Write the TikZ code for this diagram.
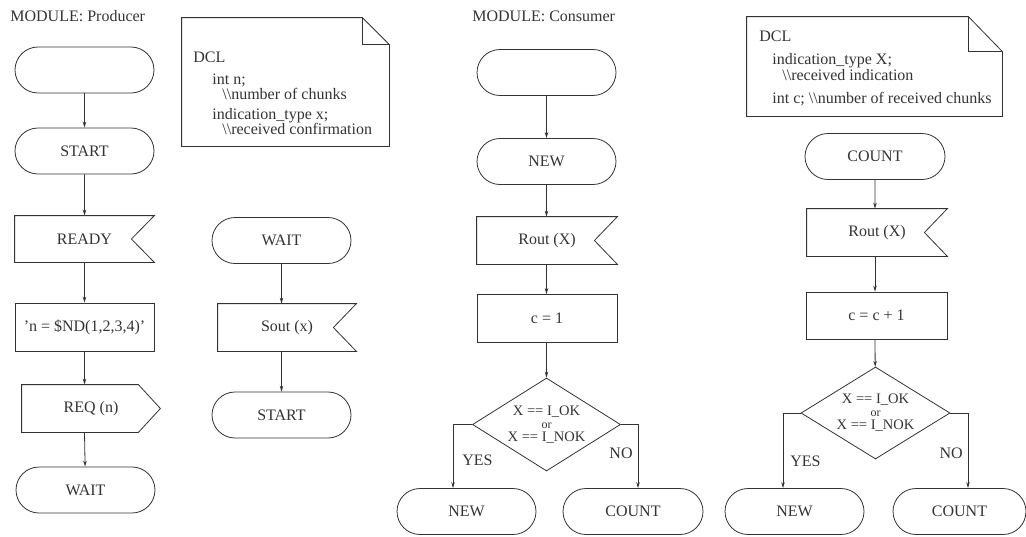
\documentclass[tikz,border=0pt]{standalone}
\usepackage{fontspec}
\setmainfont{Liberation Serif}
\usetikzlibrary{shapes.misc,shapes.geometric,arrows.meta}

\begin{document}
\begin{tikzpicture}[x=1pt, y=-1pt, line width=0.8pt, color=black!80,
    every node/.style={font=\fontsize{16}{17}\selectfont, inner sep=0pt},
    term/.style={draw, rounded rectangle, minimum width=139pt, minimum height=46pt},
    procbox/.style={draw, rectangle, minimum width=140pt, minimum height=48pt},
    inbox/.style={rectangle, minimum width=140pt, minimum height=47pt,
        append after command={\pgfextra{\let\sigbox\tikzlastnode
            \draw (\sigbox.north west) -- (\sigbox.north east) -- ([xshift=-23pt]\sigbox.east)
                -- (\sigbox.south east) -- (\sigbox.south west) -- cycle;}}},
    outbox/.style={rectangle, minimum width=138pt, minimum height=47pt,
        append after command={\pgfextra{\let\sigbox\tikzlastnode
            \draw (\sigbox.north west) -- ([xshift=-22pt]\sigbox.north east) -- (\sigbox.east)
                -- ([xshift=-22pt]\sigbox.south east) -- (\sigbox.south west) -- cycle;}}},
    decision/.style={draw, diamond, aspect=1.58, minimum width=148pt, minimum height=93pt,
        align=center, font=\fontsize{14.5}{14.5}\selectfont},
    flow/.style={-{Stealth[length=6pt,width=3.5pt]}},
    note/.style={rectangle},
    notetext/.style={align=left, anchor=north west}]

    \useasboundingbox (0,0) rectangle (1026,536);

    % module Producer
    \node[anchor=base west] (prodTitle) at (10,21) {MODULE: Producer};

    \node[term] (pEmpty)  at (84.5,70)   {};
    \node[term] (pStart)  at (84.5,151)  {START};
    \node[inbox, minimum width=139pt, minimum height=46pt] (pReady) at (84.5,239) {READY};
    \node[procbox, minimum width=139pt] (pAssign) at (84.5,327) {'n = \$ND(1,2,3,4)'};
    \node[outbox] (pReq)  at (91,408.5)  {REQ (n)};
    \node[term] (pWait)   at (85.5,490)  {WAIT};

    \path[flow]
        (pEmpty)  edge (pStart)
        (pStart)  edge (pReady)
        (pReady)  edge (pAssign)
        (pAssign) edge (pAssign |- pReq.north)
        (pAssign |- pReq.south) edge (pWait);

    \node[note, minimum width=207pt, minimum height=128pt] (dclProd) at (285.5,82) {};
    \draw (dclProd.south west) -- (dclProd.north west) -- ([xshift=-27pt]dclProd.north east)
        -- ([yshift=-27pt]dclProd.north east) -- (dclProd.south east) -- cycle;
    \draw ([xshift=-27pt]dclProd.north east) -- ([xshift=-27pt,yshift=-27pt]dclProd.north east)
        -- ([yshift=-27pt]dclProd.north east);
    \node[notetext, font=\fontsize{16}{15}\selectfont] (dclProdText) at (193,52)
        {DCL\\[7pt]
         \hspace*{19pt}int n;\\
         \hspace*{29pt}\textbackslash\textbackslash number of chunks\\[5pt]
         \hspace*{19pt}indication\_type x;\\
         \hspace*{29pt}\textbackslash\textbackslash received confirmation};

    \node[term] (pWaitB)  at (281.5,240.5) {WAIT};
    \node[inbox, minimum width=138pt] (pSout) at (287,327.5) {Sout (x)};
    \node[term] (pStartB) at (281.5,415) {START};

    \path[flow]
        (pWaitB) edge (pWaitB |- pSout.north)
        (pWaitB |- pSout.south) edge (pStartB);

    % module Consumer
    \node[anchor=base west] (consTitle) at (472,21) {MODULE: Consumer};

    \node[term] (cEmpty) at (546.5,72.5)  {};
    \node[term] (cNew)   at (546.5,161.5) {NEW};
    \node[inbox] (cRout) at (547,240.5)   {Rout (X)};
    \node[procbox] (cSet) at (547,318.5)  {c = 1};
    \node[decision] (cDec) at (546.5,424.5)
        {X == I\_OK\\[-1.5pt]{\fontsize{12}{12}\selectfont or}\\[-1.5pt]X == I\_NOK};
    \node[term] (cNewB)  at (466.5,511.5) {NEW};
    \node[term, minimum width=140pt] (cCount) at (633,511.5) {COUNT};

    \path[flow]
        (cEmpty) edge (cNew)
        (cNew)   edge (cNew |- cRout.north)
        (cNew |- cRout.south) edge (cNew |- cSet.north)
        (cNew |- cSet.south)  edge (cDec);
    \draw[flow] (cDec.west) -| node[right=9pt, pos=0.78] (cYes) {YES} ([xshift=-13.5pt]cNewB.north);
    \draw[flow] (cDec.east) -| node[left=5pt, pos=0.73] (cNo) {NO} ([xshift=5pt]cCount.north);

    % right part of Consumer
    \node[note, minimum width=255pt, minimum height=99pt] (dclCons) at (874.5,66.5) {};
    \draw (dclCons.south west) -- (dclCons.north west) -- ([xshift=-34pt]dclCons.north east)
        -- ([yshift=-35pt]dclCons.north east) -- (dclCons.south east) -- cycle;
    \draw ([xshift=-34pt]dclCons.north east) -- ([xshift=-34pt,yshift=-35pt]dclCons.north east)
        -- ([yshift=-35pt]dclCons.north east);
    \node[notetext, font=\fontsize{16}{16}\selectfont] (dclConsText) at (759,31)
        {DCL\\[7pt]
         \hspace*{13pt}indication\_type X;\\
         \hspace*{23pt}\textbackslash\textbackslash received indication\\[7pt]
         \hspace*{13pt}int c; \textbackslash\textbackslash number of received chunks};

    \node[term, minimum width=140pt] (rCount) at (875,156.5) {COUNT};
    \node[inbox] (rRout) at (877,232.5)  {Rout (X)};
    \node[procbox, minimum width=141pt, minimum height=47pt] (rSet) at (876.5,315.5) {c = c + 1};
    \node[decision, minimum width=149pt, minimum height=92pt] (rDec) at (875.5,413)
        {X == I\_OK\\[-1.5pt]{\fontsize{12}{12}\selectfont or}\\[-1.5pt]X == I\_NOK};
    \node[term] (rNew)   at (794.5,511.5) {NEW};
    \node[term, minimum width=133pt] (rCountB) at (959.5,511.5) {COUNT};

    \path[flow]
        (rCount) edge (rCount |- rRout.north)
        (rCount |- rRout.south) edge (rCount |- rSet.north)
        (rCount |- rSet.south)  edge (rDec);
    \draw[flow] (rDec.west) -| node[right=7pt, pos=0.82] (rYes) {YES} ([xshift=-11.5pt]rNew.north);
    \draw[flow] (rDec.east) -| node[left=5pt, pos=0.77] (rNo) {NO} ([xshift=8.5pt]rCountB.north);
\end{tikzpicture}
\end{document}
